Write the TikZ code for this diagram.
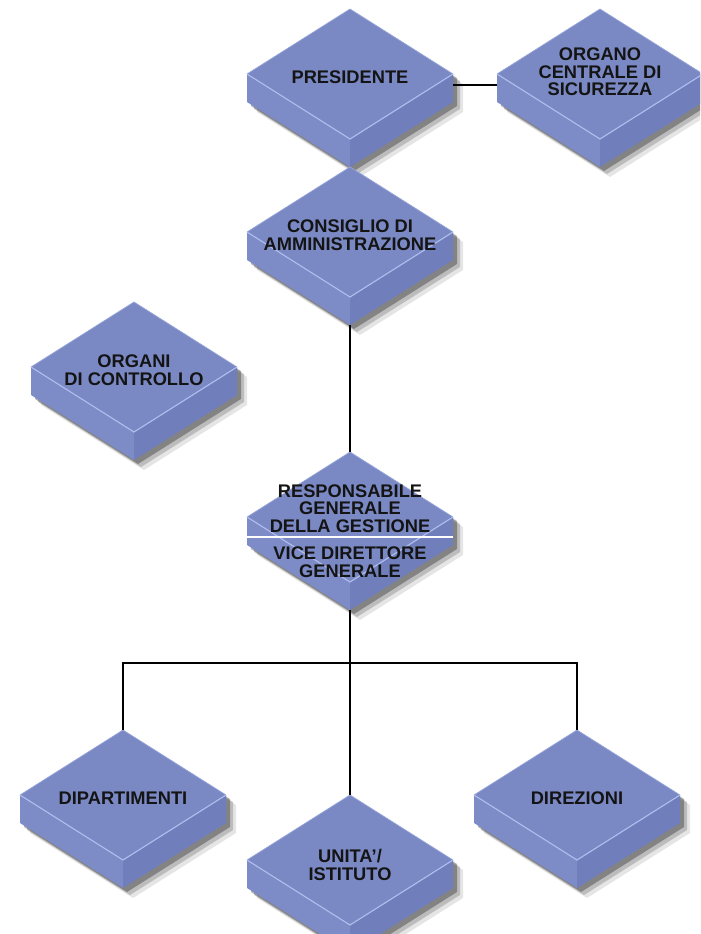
\documentclass[tikz,border=0pt]{standalone}
\usepackage{fontspec}
\setmainfont{Liberation Sans}
\usetikzlibrary{calc}
\definecolor{slabTop}{RGB}{122,137,196}
\definecolor{slabLeft}{RGB}{125,140,199}
\definecolor{slabRight}{RGB}{112,127,188}
\definecolor{slabEdge}{RGB}{176,190,238}
\definecolor{lblBlack}{gray}{0.08}

\tikzset{
  txtdy/.store in=\txtdy, txtdy=3,
  lbl/.style={font=\fontsize{13}{12.5}\selectfont\bfseries, text=lblBlack, align=center, inner sep=0pt},
  link/.style={draw=black, line width=1pt},
  sepline/.style={draw=white, line width=1pt},
  slab/.pic={
    % soft shadow
    \foreach \d/\o in {10/.1,7/.18,4/.3}
      \fill[black, opacity=\o, shift={(\d,\d)}] (0,-65) -- (103,0) -- (103,28) -- (0,93) -- (-103,28) -- (-103,0) -- cycle;
    \fill[slabLeft] (-103,0) -- (0,65) -- (0,93) -- (-103,28) -- cycle;
    \fill[slabRight] (0,65) -- (103,0) -- (103,28) -- (0,93) -- cycle;
    \fill[slabTop] (0,-65) -- (103,0) -- (0,65) -- (-103,0) -- cycle;
    \draw[slabEdge!55!slabTop, line width=.5pt] (-103,0) -- (0,-65) -- (103,0);
    \draw[slabEdge, line width=.8pt] (-103,0) -- (0,65) -- (103,0);
    \coordinate (-top) at (0,-65);
    \coordinate (-bot) at (0,93);
    \coordinate (-l) at (-103,11);
    \coordinate (-r) at (103,11);
    \node[lbl] (-txt) at (0,\txtdy) {#1};
  }
}

\begin{document}
\begin{tikzpicture}[x=0.025cm, y=-0.025cm]
  \useasboundingbox (0,0) rectangle (700,934);
  \clip (0,0) rectangle (700,934);

  \pic (pres) at (350,74) {slab={PRESIDENTE}};
  \pic[txtdy=-2] (orgc) at (600,74) {slab={ORGANO\\CENTRALE DI\\SICUREZZA}};
  \pic (cons) at (350,232) {slab={CONSIGLIO DI\\AMMINISTRAZIONE}};
  \pic (ctrl) at (134,367) {slab={ORGANI\\DI CONTROLLO}};
  \pic[txtdy=14] (resp) at (350,517) {slab={RESPONSABILE\\GENERALE\\DELLA GESTIONE\\[7pt]VICE DIRETTORE\\GENERALE}};
  \pic (dip) at (123,795) {slab={DIPARTIMENTI}};
  \pic[txtdy=5] (unit) at (350,860) {slab={UNITA'/\\ISTITUTO}};
  \pic (dir) at (577,795) {slab={DIREZIONI}};

  \draw[sepline] ([yshift=-0.225cm]resp-l) -- ([yshift=-0.225cm]resp-r);
  \coordinate (fork) at (350,663);

  \draw[link] (pres-r) -- (orgc-l);
  \draw[link] (cons-bot) -- (resp-top);
  \draw[link] (resp-bot) -- (fork);
  \draw[link] (dip-top) |- (fork) -| (dir-top);
  \draw[link] (fork) -- (unit-top);
\end{tikzpicture}
\end{document}
